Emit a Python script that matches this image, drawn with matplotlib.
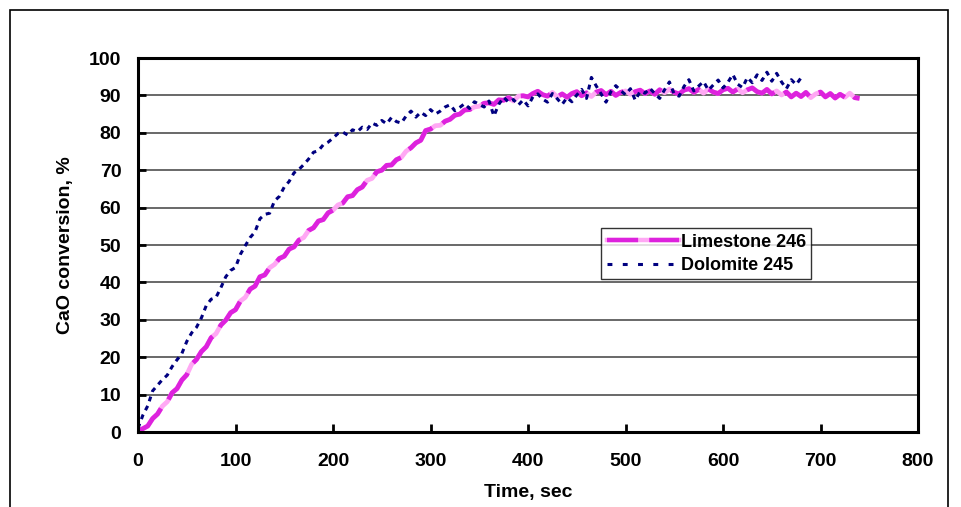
import matplotlib
matplotlib.use("Agg")
import matplotlib.pyplot as plt
from matplotlib.patches import Rectangle
from matplotlib.lines import Line2D

plt.rcParams['font.family'] = ['Liberation Sans', 'DejaVu Sans']
plt.rcParams['font.weight'] = 'bold'

# limestone 246, sampled every 5 s
t_lime = [0, 5, 10, 15, 20, 25, 30, 35, 40, 45, 50, 55, 60, 65, 70, 75, 80, 85, 90, 95,
          100, 105, 110, 115, 120, 125, 130, 135, 140, 145, 150, 155, 160, 165, 170, 175, 180, 185, 190, 195,
          200, 205, 210, 215, 220, 225, 230, 235, 240, 245, 250, 255, 260, 265, 270, 275, 280, 285, 290, 295,
          300, 305, 310, 315, 320, 325, 330, 335, 340, 345, 350, 355, 360, 365, 370, 375, 380, 385, 390, 395,
          400, 405, 410, 415, 420, 425, 430, 435, 440, 445, 450, 455, 460, 465, 470, 475, 480, 485, 490, 495,
          500, 505, 510, 515, 520, 525, 530, 535, 540, 545, 550, 555, 560, 565, 570, 575, 580, 585, 590, 595,
          600, 605, 610, 615, 620, 625, 630, 635, 640, 645, 650, 655, 660, 665, 670, 675, 680, 685, 690, 695,
          700, 705, 710, 715, 720, 725, 730, 735, 740]
lime = [0.3, 0.9, 1.6, 3.6, 4.8, 6.9, 8.1, 10.5, 11.6, 13.9, 15.3, 18.1, 19.4, 21.5, 22.8, 25.2, 26.3, 28.6, 29.9, 31.9,
        32.7, 35.0, 36.0, 38.2, 39.0, 41.5, 42.0, 43.9, 44.8, 46.4, 47.0, 48.9, 49.5, 51.3, 52.0, 53.9, 54.6, 56.4, 56.8, 58.6,
        59.3, 60.7, 61.2, 62.9, 63.2, 64.8, 65.5, 67.3, 67.8, 69.6, 70.0, 71.3, 71.4, 72.8, 73.4, 75.1, 76.0, 77.3, 78.0, 80.6,
        81.0, 81.9, 82.0, 83.1, 83.6, 84.7, 85.0, 86.1, 86.2, 86.9, 87.1, 87.9, 88.0, 87.6, 88.8, 88.7, 89.4, 88.5, 89.8, 89.9,
        89.6, 90.5, 91.1, 90.2, 89.8, 90.8, 89.6, 90.4, 89.5, 90.5, 91.0, 89.9, 90.7, 89.7, 90.9, 91.3, 90.2, 91.1, 90.0, 90.8,
        91.2, 90.3, 91.0, 91.4, 90.5, 91.2, 90.3, 91.5, 90.7, 91.7, 90.8, 90.4, 91.4, 91.8, 90.8, 91.6, 90.6, 91.7, 90.9, 90.5,
        91.5, 91.9, 90.9, 91.7, 90.7, 91.5, 92.0, 91.0, 90.6, 91.6, 90.4, 91.2, 90.1, 90.9, 89.6, 90.6, 89.7, 90.8, 89.4, 90.4,
        90.9, 89.6, 90.5, 89.3, 90.3, 89.5, 90.6, 89.4, 89.2]

# dolomite 245, sampled every 5 s
t_dolo = [0, 5, 10, 15, 20, 25, 30, 35, 40, 45, 50, 55, 60, 65, 70, 75, 80, 85, 90, 95,
          100, 105, 110, 115, 120, 125, 130, 135, 140, 145, 150, 155, 160, 165, 170, 175, 180, 185, 190, 195,
          200, 205, 210, 215, 220, 225, 230, 235, 240, 245, 250, 255, 260, 265, 270, 275, 280, 285, 290, 295,
          300, 305, 310, 315, 320, 325, 330, 335, 340, 345, 350, 355, 360, 365, 370, 375, 380, 385, 390, 395,
          400, 405, 410, 415, 420, 425, 430, 435, 440, 445, 450, 455, 460, 465, 470, 475, 480, 485, 490, 495,
          500, 505, 510, 515, 520, 525, 530, 535, 540, 545, 550, 555, 560, 565, 570, 575, 580, 585, 590, 595,
          600, 605, 610, 615, 620, 625, 630, 635, 640, 645, 650, 655, 660, 665, 670, 675, 680]
dolo = [1.0, 4.5, 7.0, 11.0, 12.5, 14.0, 15.2, 17.5, 19.3, 21.0, 24.2, 26.5, 28.0, 30.5, 33.8, 35.5, 36.0, 38.6, 41.5, 43.2,
        44.0, 47.5, 49.8, 52.0, 53.5, 57.0, 58.2, 58.5, 61.8, 63.0, 65.5, 67.0, 69.3, 70.2, 71.5, 73.0, 74.8, 75.2, 76.8, 77.5,
        78.6, 79.8, 80.2, 79.4, 80.8, 80.3, 81.5, 80.9, 82.6, 82.0, 83.3, 82.4, 84.1, 83.0, 82.6, 84.5, 85.8, 84.2, 85.5, 84.6,
        86.2, 85.0, 85.8, 86.9, 87.5, 85.9, 86.8, 87.8, 86.5, 88.3, 87.6, 86.9, 88.5, 84.5, 87.6, 89.5, 88.2, 88.9, 87.4, 88.8,
        87.2, 89.6, 90.4, 89.0, 88.2, 90.5, 89.1, 87.6, 89.4, 88.3, 90.1, 91.6, 89.2, 94.8, 92.5, 90.4, 88.2, 91.0, 92.6, 91.3,
        90.2, 91.8, 88.7, 91.1, 90.6, 91.9, 90.5, 89.2, 91.5, 93.6, 90.3, 89.8, 92.4, 94.2, 91.2, 92.5, 93.7, 91.4, 92.8, 94.1,
        92.0, 93.5, 95.6, 93.0, 92.1, 94.8, 93.4, 95.5, 94.0, 96.2, 93.8, 95.9, 93.6, 91.8, 94.2, 92.9, 94.7]

fig = plt.figure(figsize=(9.61, 5.07), dpi=100)
ax = fig.add_axes([0.1436, 0.1479, 0.9553 - 0.1436, 0.8856 - 0.1479])

# outer chart frame
fig.patches.append(Rectangle((10 / 961, -0.02), (948 - 10) / 961, 497 / 507 + 0.02,
                             transform=fig.transFigure, fill=False, edgecolor='black', lw=1.2))

ax.plot(t_lime, lime, color='#FFA8F4', lw=3.4, solid_capstyle='butt')
ax.plot(t_lime, lime, color='#DD22DD', lw=3.4, linestyle=(0, (7, 2.5)))
ax.plot(t_dolo, dolo, color='#000080', lw=2.2, linestyle=(0, (1.6, 1.6)))

ax.set_xlim(0, 800)
ax.set_ylim(0, 100)
ax.set_xticks(range(0, 801, 100))
ax.set_yticks(range(0, 101, 10))
ax.yaxis.grid(True, color='#404040', lw=1.1)
ax.set_axisbelow(True)
for s in ax.spines.values():
    s.set_linewidth(2.2)
ax.tick_params(direction='in', length=6, width=2, labelsize=14)
ax.tick_params(axis='y', pad=12)
ax.tick_params(axis='x', pad=15)

ax.set_xlabel('Time, sec', fontsize=14, fontweight='bold', labelpad=10)
ax.set_ylabel('CaO conversion, %', fontsize=14, fontweight='bold', labelpad=11)

# legend drawn with proxy lines so the limestone key shows both colours
h1 = (Line2D([], [], color='#FFA8F4', lw=3.2),
      Line2D([], [], color='#DD22DD', lw=3.2, linestyle=(0, (7, 2.5))))
h2 = Line2D([], [], color='#000080', lw=2.2, linestyle=(0, (1.6, 3.4)))
leg = ax.legend([h1, h2], ['Limestone 246', 'Dolomite 245'],
                loc='upper left', bbox_to_anchor=(0.594, 0.545),
                prop={'size': 13, 'weight': 'bold'}, handlelength=4.0, handletextpad=0.1,
                frameon=True, fancybox=False, edgecolor='black', borderpad=0.3,
                labelspacing=0.35, borderaxespad=0)
leg.get_frame().set_linewidth(1.0)

fig.savefig('out.png', dpi=100)
